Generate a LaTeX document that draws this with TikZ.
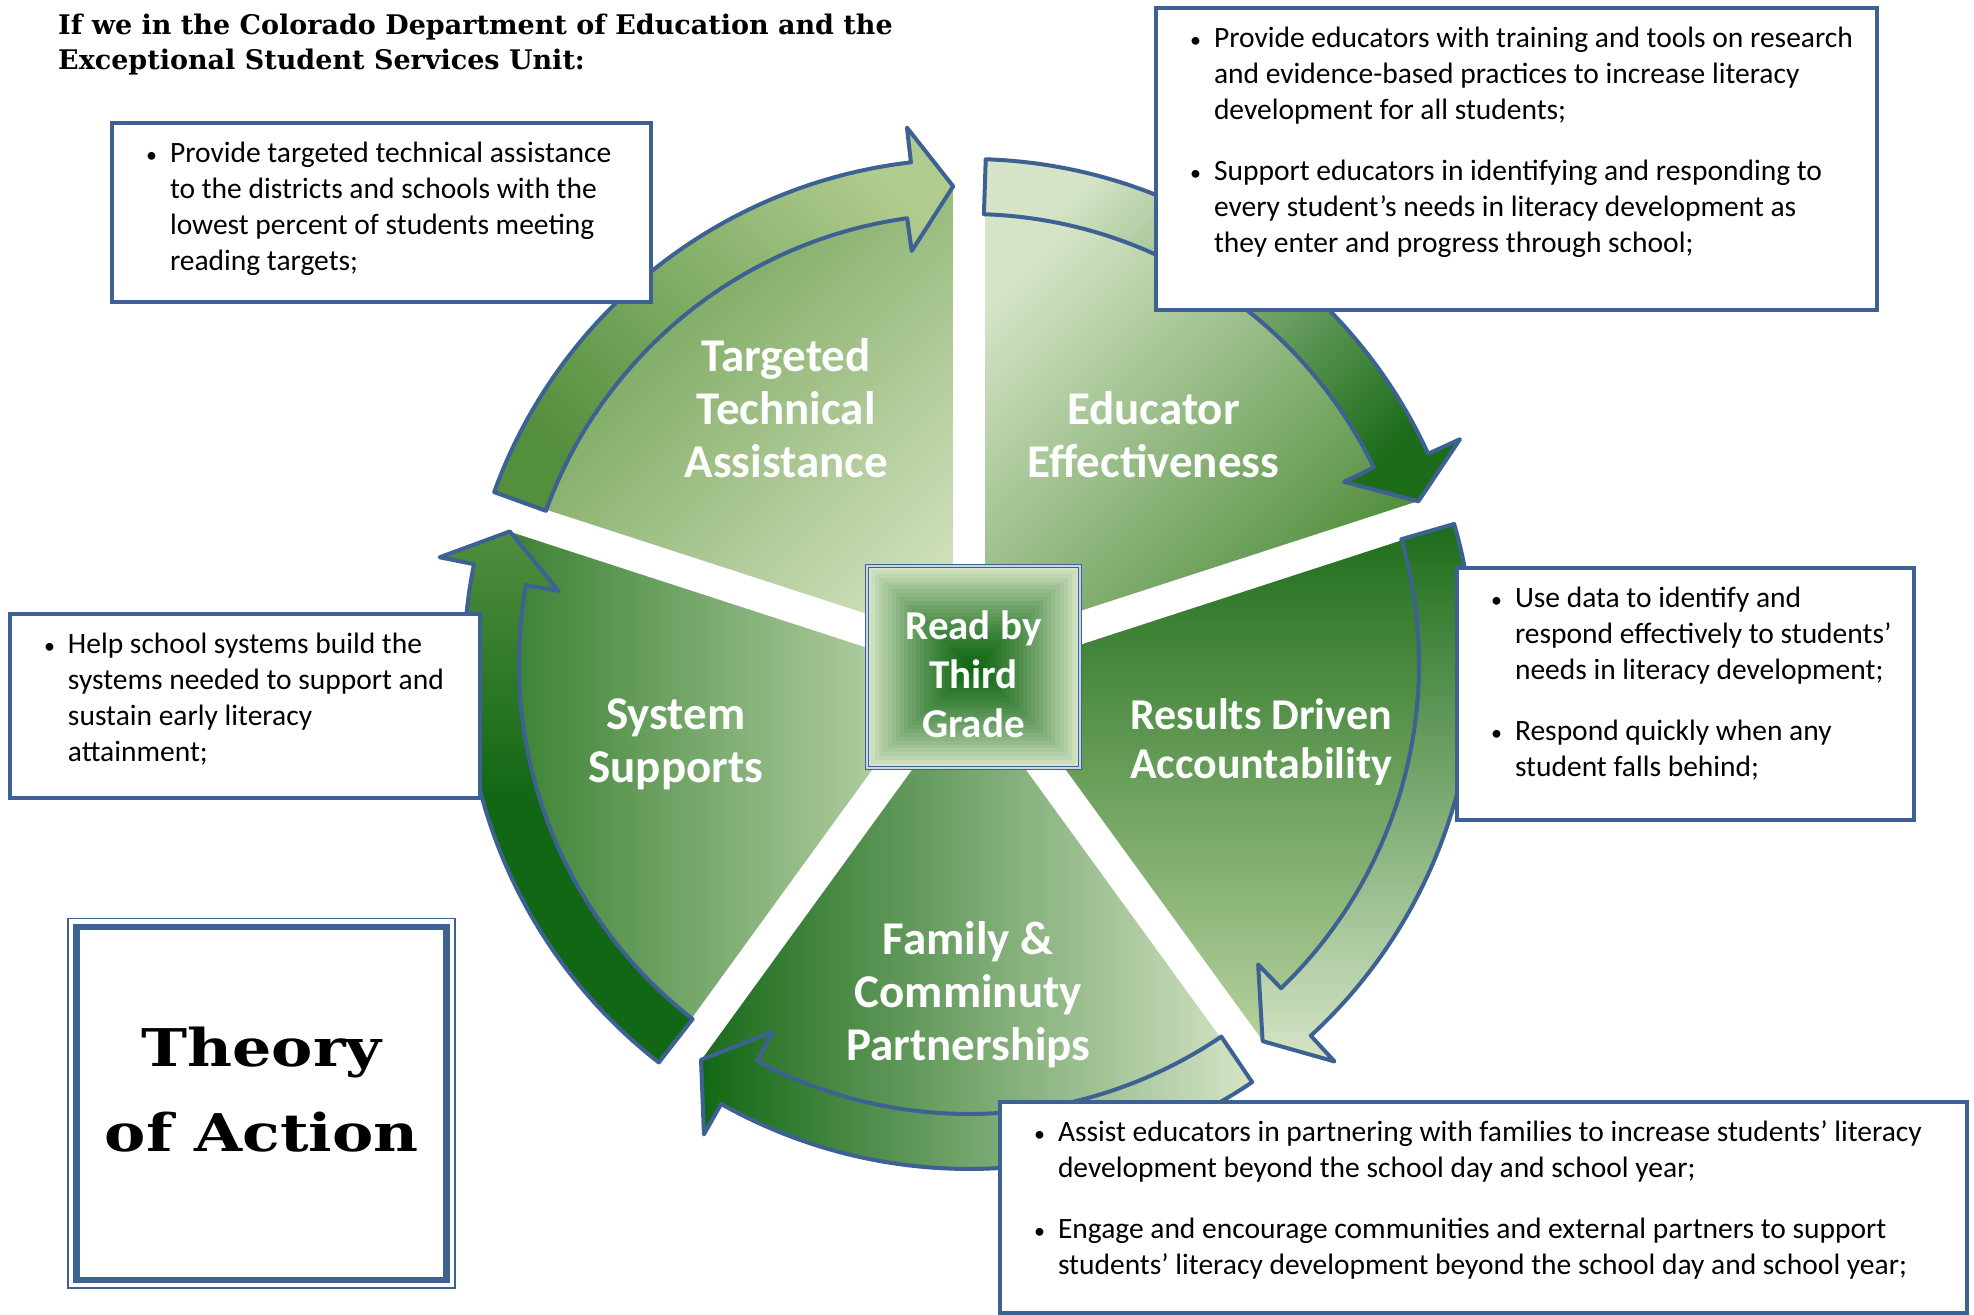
\documentclass[tikz,border=0pt]{standalone}
\usepackage{fontspec}
\setmainfont{Carlito}
\newfontfamily\slabfont[FakeStretch=1.19]{DejaVu Serif}
\newfontfamily\headfont{DejaVu Serif}

\definecolor{frameblue}{RGB}{60,97,146}
\definecolor{dkgreen}{RGB}{18,103,20}
\definecolor{coreLight}{RGB}{214,229,199}
\definecolor{coreEdge}{RGB}{200,215,232}
\definecolor{taDark}{RGB}{108,158,78}
\definecolor{taLight}{RGB}{205,222,185}
\definecolor{eeLight}{RGB}{213,228,198}
\definecolor{eeDark}{RGB}{75,138,55}
\definecolor{rdDark}{RGB}{28,108,25}
\definecolor{rdLight}{RGB}{186,211,160}
\definecolor{fcDark}{RGB}{22,104,22}
\definecolor{fcLight}{RGB}{213,228,197}
\definecolor{ssDark}{RGB}{40,118,35}
\definecolor{ssLight}{RGB}{205,223,186}
\definecolor{arrLight}{RGB}{214,229,199}
\definecolor{taArrLight}{RGB}{176,203,142}
\definecolor{taArrDark}{RGB}{84,143,62}
\definecolor{ssArrTop}{RGB}{80,142,62}

\tikzset{
  infobox/.style={draw=frameblue, line width=4.5pt, fill=white, inner sep=0pt, outer sep=0pt, anchor=north west},
  cyclearr/.style={draw=frameblue, line width=4pt, line join=round},
  seglabel/.style={text=white, align=center, inner sep=0pt, font=\bfseries\fontsize{47}{53}\selectfont},
}

% clockwise arrow along the rim: #1 tail angle, #2 tip angle
\newcommand{\cyclearrow}[2]{(#1:505) arc[start angle=#1, end angle=#2+4.7, radius=505]
  -- (#2+4.7:540) -- (#2:478) -- (#2+6:417) -- (#2+6:450)
  arc[start angle=#2+6, end angle=#1, radius=450] -- cycle}
\newcommand{\bitem}[1]{\par\hangindent=20pt\hangafter=1\noindent\makebox[20pt][l]{\strut\hspace*{-4pt}{\fontsize{22}{22}\selectfont\textbullet}}#1\par}
\newcommand{\boxtext}[3]{\parbox[c][#2pt][t]{#1pt}{\leftskip=38pt\rightskip=0pt plus 1fil\fontsize{29.5}{36}\selectfont\vspace*{14.8pt}#3}}

\begin{document}
\begin{tikzpicture}[x=1pt, y=1pt]
\useasboundingbox (0,0) rectangle (1974,1315);

\node[anchor=north west, inner sep=0pt, align=left, font=\headfont\bfseries\fontsize{27}{35}\selectfont] (heading) at (58,1301)
  {If we in the Colorado Department of Education and the\\Exceptional Student Services Unit:};

\begin{scope}[shift={(969,651)}]
  % pie segments
  \path[top color=taDark, bottom color=taLight, shading angle=45] (0,0) -- (90:478) arc[start angle=90, end angle=162, radius=478] -- cycle;
  \path[top color=eeLight, bottom color=eeDark, shading angle=45] (0,0) -- (18:478) arc[start angle=18, end angle=90, radius=478] -- cycle;
  \path[top color=rdDark, bottom color=rdLight] (0,0) -- (-54:478) arc[start angle=-54, end angle=18, radius=478] -- cycle;
  \path[left color=fcDark, right color=fcLight] (0,0) -- (234:478) arc[start angle=234, end angle=306, radius=478] -- cycle;
  \path[left color=ssDark, right color=ssLight] (0,0) -- (162:478) arc[start angle=162, end angle=234, radius=478] -- cycle;
  % white gaps
  \foreach \g in {90,18,-54,-126,162}
    \draw[white, line width=32pt] (0,0) -- (\g:545);
  % arrows
  \path[cyclearr, top color=taArrLight, bottom color=taArrDark, shading angle=-45] \cyclearrow{160.1}{91.9};
  \path[cyclearr, top color=arrLight, bottom color=rdDark, shading angle=45] \cyclearrow{88.1}{19.9};
  \path[cyclearr, top color=rdDark, bottom color=arrLight] \cyclearrow{16.1}{-52.1};
  \path[cyclearr, left color=dkgreen, right color=arrLight] \cyclearrow{304.1}{235.9};
  \path[cyclearr, top color=ssArrTop, bottom color=dkgreen, middle color=dkgreen] \cyclearrow{232.1}{163.9};
\end{scope}

% centre square
\foreach \i in {0,...,25} {
  \pgfmathsetmacro{\p}{4*\i*(1.5-0.02*\i)}
  \fill[dkgreen!\p!coreLight] (867+4.1*\i, 547+3.9*\i) rectangle (1080-4.1*\i, 749-3.9*\i);
}
\node[draw=frameblue, line width=1.2pt, double=coreEdge, double distance=1.6pt, minimum width=213pt, minimum height=202pt,
  inner sep=0pt, text=white, align=center, font=\bfseries\fontsize{41}{49}\selectfont] (core) at (973.5,648)
  {\rule{0pt}{44pt}Read by\\Third\\Grade};

% segment labels
\node[seglabel] (lblTA) at (786.3,907.3) {Targeted\\Technical\\Assistance};
\node[seglabel] (lblEE) at (1153.5,880.6) {Educator\\Effectiveness};
\node[seglabel, font=\bfseries\fontsize{44}{48.5}\selectfont] (lblRD) at (1261.3,573.1) {Results Driven\\Accountability};
\node[seglabel] (lblFC) at (968.3,320.3) {Family \&\\Comminuty\\Partnerships};
\node[seglabel] (lblSS) at (675.8,571) {System\\Supports};

% text boxes
\node[infobox] (boxTA) at (112,1192) {\boxtext{539}{179}{%
  \bitem{Provide targeted technical assistance\\to the districts and schools with the\\lowest percent of students meeting\\reading targets;}}};
\node[infobox] (boxEE) at (1156,1307) {\boxtext{721}{302}{%
  \bitem{Provide educators with training and tools on research\\and evidence-based practices to increase literacy\\development for all students;}%
  \vspace{25pt}%
  \bitem{Support educators in identifying and responding to\\every student’s needs in literacy development as\\they enter and progress through school;}}};
\node[infobox] (boxRD) at (1457,747) {\boxtext{457}{252}{%
  \bitem{Use data to identify and\\respond effectively to students’\\needs in literacy development;}%
  \vspace{25pt}%
  \bitem{Respond quickly when any\\student falls behind;}}};
\node[infobox] (boxFC) at (1000,213) {\boxtext{967}{211}{%
  \bitem{Assist educators in partnering with families to increase students’ literacy\\development beyond the school day and school year;}%
  \vspace{25pt}%
  \bitem{Engage and encourage communities and external partners to support\\students’ literacy development beyond the school day and school year;}}};
\node[infobox] (boxSS) at (10,701) {\boxtext{470}{184}{%
  \bitem{Help school systems build the\\systems needed to support and\\sustain early literacy\\attainment;}}};

% theory of action
\node[draw=frameblue, line width=6.5pt, outer sep=0pt, inner sep=0pt, minimum width=370pt, minimum height=353pt,
  align=center, font=\slabfont\bfseries\fontsize{52}{85}\selectfont] (theory) at (261.7,211.7)
  {Theory\\of Action\rule[-28pt]{0pt}{0pt}};
\draw[frameblue, line width=1.7pt] ([shift={(-8.4,-8.4)}]theory.south west) rectangle ([shift={(8.4,8.4)}]theory.north east);
\end{tikzpicture}
\end{document}
